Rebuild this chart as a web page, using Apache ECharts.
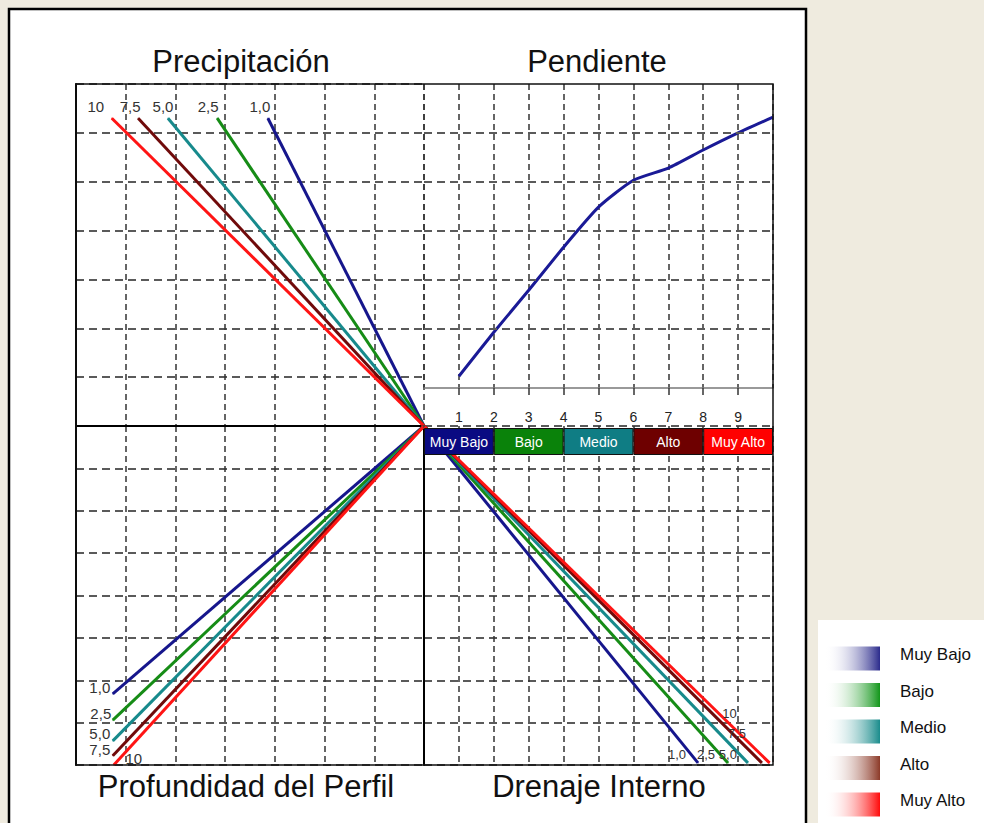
<!DOCTYPE html>
<html><head><meta charset="utf-8">
<script src="https://cdn.jsdelivr.net/npm/echarts@6/dist/echarts.min.js"></script>
<style>html,body{margin:0;padding:0;background:#efebdf;}#c{width:984px;height:823px;}</style>
</head><body><div id="c"></div>
<script>
// ---------- data ----------
const classNames = ['Muy Bajo', 'Bajo', 'Medio', 'Alto', 'Muy Alto'];
const classWidths = [2, 2, 2, 2, 2];
const lineLabels = ['1,0', '2,5', '5,0', '7,5', '10'];
// Precipitación (top-left): lines from origin to end points
const precipOrigin = [7, 0];
const precipEndX = [3.86, 2.84, 1.85, 1.25, 0.72];
const precipEndY = [6.30, 6.30, 6.30, 6.30, 6.30];
// Profundidad del Perfil (bottom-left)
const profOrigin = [7, 0];
const profEndX = [0.74, 0.74, 0.74, 0.74, 0.76];
const profEndY = [6.32, 6.94, 7.43, 7.78, 8.0];
// Drenaje Interno (bottom-right)
const drenOrigin = [0, 0];
const drenEndX = [7.85, 8.71, 9.28, 9.68, 9.9];
const drenEndY = [7.95, 7.95, 7.95, 7.95, 7.95];
// Pendiente (top-right)
const pendX = [1, 2, 3, 4, 5, 6, 7, 8, 9, 10];
const pendY = [1.02, 1.92, 2.78, 3.66, 4.48, 5.03, 5.28, 5.65, 6.0, 6.32];
const pendGridY = [2, 3, 4, 5, 6];

// ---------- styles ----------
const lineColors = ['#16168c', '#168c16', '#178a8c', '#700a0a', '#ff1414'];
const bandColors = ['#0a0a82', '#0a820a', '#0f7d84', '#6e0000', '#ff0000'];
const legendColors = ['#2b2b8c', '#12961a', '#1a8c8c', '#8c3a28', '#ff0a0a'];
const labelOffsets = {
  precip: [[-8, -12], [-9, -12], [-5, -12], [-8, -12], [-16, -12]],
  prof: [[-13, -6], [-12, -7], [-13, -7], [-13, -6], [20, -7]],
  dren: [[-21, -8], [-22, -8], [-20, -8], [-25, -29], [-40, -49]]
};
const labelSizes = { precip: 15, prof: 15, dren: 13 };
const FONT = "'Liberation Sans', Arial, sans-serif";
const NARROW = "'Liberation Sans Narrow', 'Arial Narrow', 'Liberation Sans', sans-serif";
const dashV = { show: true, lineStyle: { type: [6, 4], color: '#333', width: 1.5 } };
const dashH = { show: true, lineStyle: { type: [8, 5], color: '#5a5a5a', width: 2 } };
const blackLine = { show: true, lineStyle: { color: '#000', width: 2 } };
const noTick = { show: false };
const noLabel = { show: false };
const titleStyle = { fontSize: 31, fontWeight: 'normal', color: '#111', fontFamily: FONT };

function fan(idx, origin, ex, ey, offs, fs) {
  return lineLabels.map((lab, i) => ({
    type: 'line', name: 'l' + idx + '_' + i, xAxisIndex: idx, yAxisIndex: idx, z: 3,
    symbol: 'circle', symbolSize: 1, showSymbol: true, silent: true,
    lineStyle: { color: lineColors[i], width: 3 }, itemStyle: { color: lineColors[i] },
    data: [origin, { value: [ex[i], ey[i]], label: { show: true, position: 'inside', formatter: lab, offset: offs[i], fontSize: fs, color: '#333', fontFamily: FONT } }]
  }));
}

const series = [].concat(
  fan(0, precipOrigin, precipEndX, precipEndY, labelOffsets.precip, labelSizes.precip),
  fan(2, profOrigin, profEndX, profEndY, labelOffsets.prof, labelSizes.prof),
  fan(3, drenOrigin, drenEndX, drenEndY, labelOffsets.dren, labelSizes.dren),
  [{
    type: 'line', name: 'Pendiente', xAxisIndex: 1, yAxisIndex: 1, z: 3, symbol: 'none', smooth: 0.2, silent: true,
    lineStyle: { color: '#1a1a96', width: 3 },
    data: pendX.map((x, i) => [x, pendY[i]]),
    markLine: { silent: true, symbol: 'none', label: { show: false }, lineStyle: { type: [8, 5], color: '#5a5a5a', width: 2 },
      data: pendGridY.map(v => ({ yAxis: v })) }
  }],
  classNames.map((n, i) => ({
    type: 'bar', name: n, xAxisIndex: 4, yAxisIndex: 4, stack: 'band', barWidth: '100%', z: 5, silent: true,
    data: [classWidths[i]],
    itemStyle: { color: bandColors[i], borderColor: '#111', borderWidth: 1 },
    label: { show: true, position: 'inside', formatter: n, color: '#fff', fontSize: 14, fontFamily: FONT }
  }))
);

const option = {
  backgroundColor: '#efebdf',
  animation: false,
  textStyle: { fontFamily: FONT },
  title: [
    { text: 'Precipitación', left: 241, top: 46, textAlign: 'center', padding: 0, textStyle: titleStyle },
    { text: 'Pendiente', left: 597, top: 46, textAlign: 'center', padding: 0, textStyle: titleStyle },
    { text: 'Profundidad del Perfil', left: 246, top: 771, textAlign: 'center', padding: 0, textStyle: titleStyle },
    { text: 'Drenaje Interno', left: 599, top: 771, textAlign: 'center', padding: 0, textStyle: titleStyle }
  ],
  legend: {
    orient: 'vertical', left: 825, top: 646, padding: 0, itemWidth: 55, itemHeight: 24, itemGap: 12, icon: 'rect',
    selectedMode: false,
    formatter: '{t|{name}}',
    textStyle: { fontSize: 17, fontFamily: NARROW, color: '#111', padding: [0, 0, 0, 15],
      rich: { t: { fontSize: 17, fontFamily: NARROW, color: '#111', padding: [0, 0, 8, 0] } } },
    data: classNames.map((n, i) => ({
      name: n,
      itemStyle: { borderWidth: 0, color: { type: 'linear', x: 0, y: 0, x2: 1, y2: 0, colorStops: [{ offset: 0, color: 'rgba(255,255,255,0)' }, { offset: 1, color: legendColors[i] }] } }
    }))
  },
  grid: [
    { left: 76, top: 84, width: 348, height: 342 },
    { left: 424, top: 84, width: 349, height: 304 },
    { left: 76, top: 426, width: 348, height: 339 },
    { left: 424, top: 426, width: 349, height: 339 },
    { left: 424, top: 428, width: 349, height: 27 }
  ],
  xAxis: [
    { gridIndex: 0, type: 'value', min: 0, max: 7, interval: 1, position: 'bottom', axisLine: blackLine, axisTick: noTick, axisLabel: noLabel, splitLine: dashV },
    { gridIndex: 1, type: 'value', min: 0, max: 10, interval: 1, position: 'bottom',
      axisLine: { show: true, lineStyle: { color: '#777', width: 1.5 } },
      axisTick: { show: true, length: 7, lineStyle: { color: '#333', width: 1.5 } },
      axisLabel: { show: true, margin: 22, fontSize: 14, color: '#222', showMinLabel: false, showMaxLabel: false },
      splitLine: dashV },
    { gridIndex: 2, type: 'value', min: 0, max: 7, interval: 1, position: 'top', axisLine: blackLine, axisTick: noTick, axisLabel: noLabel, splitLine: dashV },
    { gridIndex: 3, type: 'value', min: 0, max: 10, interval: 1, position: 'top', axisLine: { show: false }, axisTick: noTick, axisLabel: noLabel, splitLine: dashV },
    { gridIndex: 4, type: 'value', min: 0, max: 10, show: false }
  ],
  yAxis: [
    { gridIndex: 0, type: 'value', min: 0, max: 7, interval: 1, position: 'right', axisLine: blackLine, axisTick: noTick, axisLabel: noLabel, splitLine: dashH },
    { gridIndex: 1, type: 'value', min: 0.78, max: 7, show: false, splitLine: { show: false } },
    { gridIndex: 2, type: 'value', min: 0, max: 8, interval: 1, inverse: true, position: 'right', axisLine: blackLine, axisTick: noTick, axisLabel: noLabel, splitLine: dashH },
    { gridIndex: 3, type: 'value', min: 0, max: 8, interval: 1, inverse: true, position: 'left', axisLine: blackLine, axisTick: noTick, axisLabel: noLabel, splitLine: dashH },
    { gridIndex: 4, type: 'category', data: ['clase'], show: false }
  ],
  graphic: [
    { type: 'rect', z: -100, silent: true, shape: { x: 9, y: 9, width: 797, height: 830 }, style: { fill: '#fff', stroke: '#000', lineWidth: 2.5 } },
    { type: 'rect', z: -100, silent: true, shape: { x: 818, y: 620, width: 170, height: 210 }, style: { fill: '#fff' } },
    { type: 'rect', z: 100, silent: true, shape: { x: 76, y: 84, width: 697, height: 681 }, style: { fill: 'none', stroke: '#111', lineWidth: 1.5 } }
  ],
  series: series
};
const chart = echarts.init(document.getElementById('c'), null, { renderer: 'svg', width: 984, height: 823 });
chart.setOption(option);
</script>
</body></html>
